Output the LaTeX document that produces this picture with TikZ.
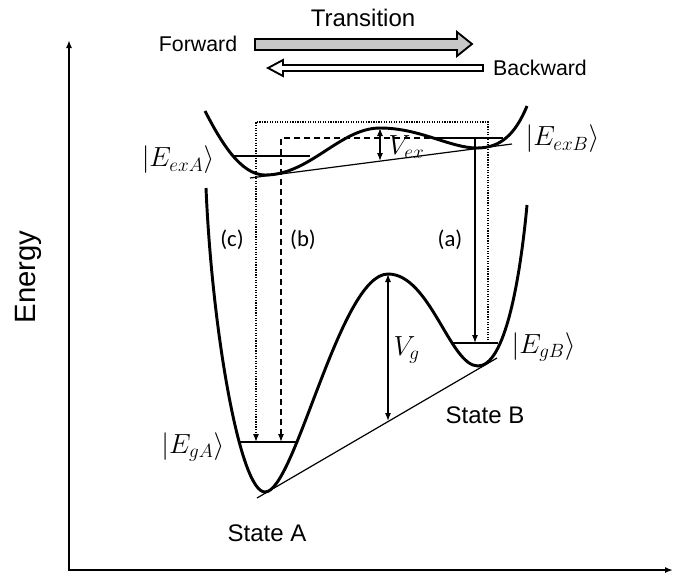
\documentclass[tikz,border=0pt]{standalone}
\usepackage{fontspec}
\setmainfont{Liberation Sans}
\newfontfamily\labelfont{Carlito}
\usetikzlibrary{arrows.meta}

\begin{document}
\begin{tikzpicture}[x=0.75pt,y=-0.75pt,>={Latex[length=6pt,width=4.5pt]},
    axis/.style={line width=1.8pt},
    pot/.style={line width=2.2pt},
    levelline/.style={line width=0.9pt},
    blockarrow/.style={line width=1.4pt},
    bigtext/.style={font=\fontsize{18}{20}\selectfont},
    midtext/.style={font=\fontsize{16}{18}\selectfont},
    ketlabel/.style={font=\fontsize{22}{24}\selectfont,inner sep=1pt},
    pathlabel/.style={font=\labelfont\fontsize{17}{19}\selectfont}]
  \useasboundingbox (0,0) rectangle (673,576);
  % axes
  \coordinate (ytop) at (69,40);
  \coordinate (origin) at (69,570);
  \coordinate (xend) at (673,570);
  \draw[axis,<->] (ytop) -- (origin) -- (xend);
  \node[rotate=90,font=\fontsize{22}{24}\selectfont] (energy) at (28,277) {Energy};
  % transition direction
  \node[bigtext] (trans) at (363,18) {Transition};
  \node[midtext] (fwd) at (198,44) {Forward};
  \node[midtext] (bwd) at (540,68) {Backward};
  \draw[blockarrow,fill=black!22] (255,39) -- (457,39) -- (457,32) -- (472,44)
    -- (457,56) -- (457,50) -- (255,50) -- cycle;
  \draw[blockarrow,fill=white] (483,65) -- (283,65) -- (283,60) -- (268,68)
    -- (283,76) -- (283,71) -- (483,71) -- cycle;
  % excited state surface
  \draw[pot] (205,111) .. controls (220,140) and (240,175) .. (265,175)
    .. controls (310,175) and (340,128) .. (380,128)
    .. controls (420,128) and (450,148) .. (477,148)
    .. controls (500,148) and (515,135) .. (527,106);
  % ground state surface
  \draw[pot] (206,188) .. controls (212,330) and (240,492) .. (265,492)
    .. controls (295,492) and (340,274) .. (388,274)
    .. controls (430,274) and (450,366) .. (478,366)
    .. controls (505,366) and (520,280) .. (527,205);
  % tangent lines
  \coordinate (exL) at (250,178);
  \coordinate (exR) at (512,144);
  \coordinate (gL) at (257,498);
  \coordinate (gR) at (497,358);
  \draw[levelline] (exL) -- (exR);
  \draw[levelline] (gL) -- (gR);
  % vibrational levels
  \coordinate (exA1) at (233,156);
  \coordinate (exA2) at (310,156);
  \coordinate (exB1) at (440,138);
  \coordinate (exB2) at (503,138);
  \coordinate (gA1) at (238,442);
  \coordinate (gA2) at (297,442);
  \coordinate (gB1) at (453,343);
  \coordinate (gB2) at (498,343);
  \draw[levelline] (exA1) -- (exA2);
  \draw[levelline] (exB1) -- (exB2);
  \draw[levelline] (gA1) -- (gA2);
  \draw[levelline] (gB1) -- (gB2);
  \node[ketlabel,anchor=east] (lexA) at (216,160) {$|E_{exA}\rangle$};
  \node[ketlabel,anchor=west] (lexB) at (524,139) {$|E_{exB}\rangle$};
  \node[ketlabel,anchor=east] (lgA) at (226,447) {$|E_{gA}\rangle$};
  \node[ketlabel,anchor=west] (lgB) at (510,347) {$|E_{gB}\rangle$};
  % barriers
  \coordinate (vexTop) at (380,128);
  \coordinate (vexBot) at (380,161);
  \coordinate (vgTop) at (388,274);
  \coordinate (vgBot) at (388,421);
  \draw[levelline,<->] (vexTop) -- (vexBot);
  \draw[levelline,<->] (vgTop) -- (vgBot);
  \node[ketlabel,anchor=west] (lvex) at (387,147) {$V_{ex}$};
  \node[ketlabel,anchor=west] (lvg) at (392,350) {$V_g$};
  % pathways
  \coordinate (aTop) at (475,138);
  \coordinate (aBot) at (475,343);
  \draw[levelline,->] (aTop) -- (aBot);
  \coordinate (bTurn) at (281,138);
  \coordinate (bBot) at (281,442);
  \draw[levelline,dash pattern=on 4.5pt off 3pt,->] (exB1) -- (bTurn) -- (bBot);
  \coordinate (cStart) at (488,343);
  \coordinate (cTurnR) at (488,122);
  \coordinate (cTurnL) at (256,122);
  \coordinate (cBot) at (256,442);
  \draw[levelline,densely dotted,->] (cStart) -- (cTurnR) -- (cTurnL) -- (cBot);
  \node[pathlabel] (pc) at (232,240) {(c)};
  \node[pathlabel] (pb) at (303,240) {(b)};
  \node[pathlabel] (pa) at (450,240) {(a)};
  % states
  \node[bigtext] (stA) at (267,533) {State A};
  \node[bigtext] (stB) at (485,415) {State B};
\end{tikzpicture}
\end{document}
